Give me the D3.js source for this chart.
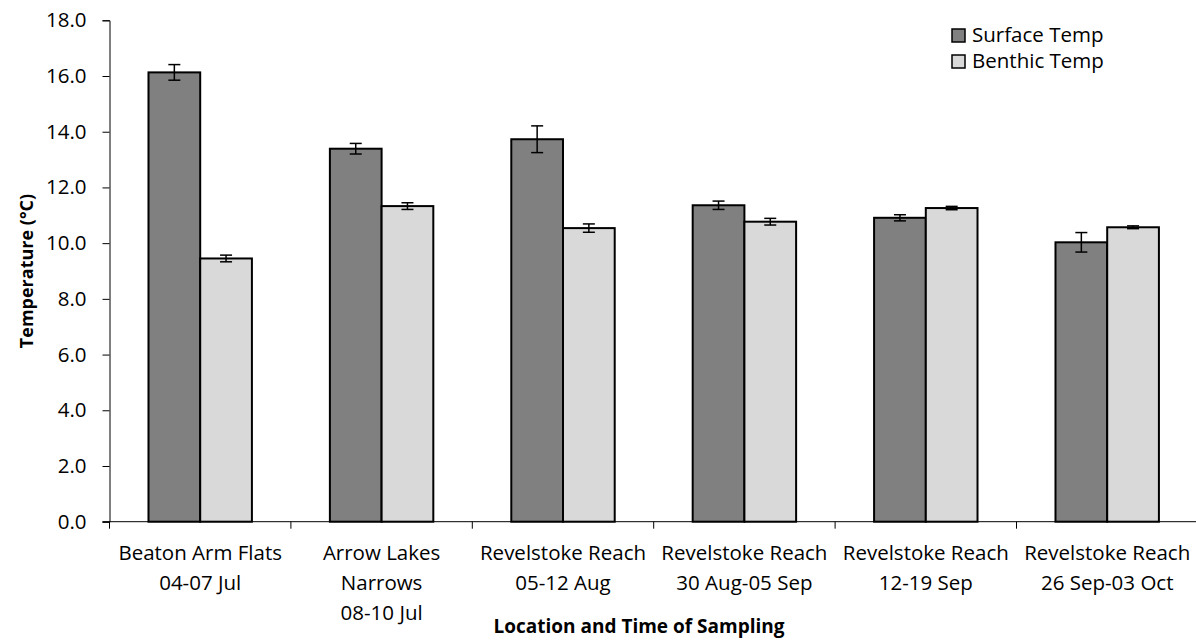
<!DOCTYPE html>
<html>
<head>
<meta charset="utf-8">
<script src="https://cdn.jsdelivr.net/npm/d3@7"></script>
<style>
  body { margin: 0; background: #fff; }
  svg text { font-family: "Open Sans", sans-serif; fill: #000; }
</style>
</head>
<body>
<div id="chart"></div>
<script>
// Data
const categories = [
  ["Beaton Arm Flats", "04-07 Jul"],
  ["Arrow Lakes", "Narrows", "08-10 Jul"],
  ["Revelstoke Reach", "05-12 Aug"],
  ["Revelstoke Reach", "30 Aug-05 Sep"],
  ["Revelstoke Reach", "12-19 Sep"],
  ["Revelstoke Reach", "26 Sep-03 Oct"]
];
const seriesNames = ["Surface Temp", "Benthic Temp"];
const surfaceTemp = [16.13, 13.39, 13.73, 11.36, 10.91, 10.03];
const surfaceErr = [0.28, 0.19, 0.48, 0.15, 0.11, 0.35];
const benthicTemp = [9.45, 11.33, 10.54, 10.77, 11.26, 10.57];
const benthicErr = [0.12, 0.12, 0.15, 0.12, 0.06, 0.05];
const yTicks = [0, 2, 4, 6, 8, 10, 12, 14, 16, 18];

const colors = { "Surface Temp": "#808080", "Benthic Temp": "#d9d9d9" };

const width = 1196, height = 641;
const margin = { left: 109.5, top: 20.3, bottom: 641 - 521.7 };
const plotRight = 109.5 + 6 * 181.4;
const fontSize = 20.5;

const svg = d3.select("#chart").append("svg")
  .attr("width", width)
  .attr("height", height);

const x0 = d3.scaleBand()
  .domain(d3.range(categories.length))
  .range([margin.left, plotRight])
  .padding(0);

const x1 = d3.scaleBand()
  .domain(seriesNames)
  .range([0, x0.bandwidth()])
  .paddingInner(0)
  .paddingOuter(0.754);

const y = d3.scaleLinear()
  .domain([0, 18])
  .range([height - margin.bottom, margin.top]);

const rows = categories.map((c, i) => [
  { name: "Surface Temp", i, v: surfaceTemp[i], e: surfaceErr[i] },
  { name: "Benthic Temp", i, v: benthicTemp[i], e: benthicErr[i] }
]);

// Bars
const groups = svg.append("g").selectAll("g")
  .data(rows)
  .join("g")
  .attr("transform", (d, i) => `translate(${x0(i)},0)`);

groups.selectAll("rect")
  .data(d => d)
  .join("rect")
  .attr("x", d => x1(d.name))
  .attr("y", d => y(d.v))
  .attr("width", x1.bandwidth())
  .attr("height", d => y(0) - y(d.v))
  .attr("fill", d => colors[d.name])
  .attr("stroke", "#000")
  .attr("stroke-width", 2);

// Error bars
const err = groups.selectAll("g.err")
  .data(d => d)
  .join("g")
  .attr("class", "err")
  .attr("stroke", "#000")
  .attr("stroke-width", 1.5);

err.append("line")
  .attr("x1", d => x1(d.name) + x1.bandwidth() / 2)
  .attr("x2", d => x1(d.name) + x1.bandwidth() / 2)
  .attr("y1", d => y(d.v + d.e))
  .attr("y2", d => y(d.v - d.e));
[1, -1].forEach(s => {
  err.append("line")
    .attr("x1", d => x1(d.name) + x1.bandwidth() / 2 - 6)
    .attr("x2", d => x1(d.name) + x1.bandwidth() / 2 + 6)
    .attr("y1", d => y(d.v + s * d.e))
    .attr("y2", d => y(d.v + s * d.e));
});

// Y axis
const yAxis = svg.append("g")
  .attr("transform", `translate(${margin.left},0)`)
  .call(d3.axisLeft(y).tickValues(yTicks).tickFormat(d3.format(".1f")).tickSize(7).tickPadding(16));
yAxis.selectAll("text").attr("font-size", fontSize).attr("font-family", "Open Sans");
yAxis.select(".domain").attr("stroke", "#000");
yAxis.selectAll(".tick line").attr("stroke", "#000");

// X axis
const xAxisG = svg.append("g")
  .attr("transform", `translate(0,${y(0)})`);
xAxisG.append("line")
  .attr("x1", margin.left - 7).attr("x2", plotRight)
  .attr("stroke", "#000");
xAxisG.selectAll("line.tick")
  .data(d3.range(categories.length + 1))
  .join("line")
  .attr("class", "tick")
  .attr("x1", i => margin.left + i * x0.step())
  .attr("x2", i => margin.left + i * x0.step())
  .attr("y1", 0).attr("y2", 7)
  .attr("stroke", "#000");

xAxisG.selectAll("text.cat")
  .data(categories)
  .join("text")
  .attr("class", "cat")
  .attr("text-anchor", "middle")
  .attr("font-size", fontSize)
  .attr("transform", (d, i) => `translate(${x0(i) + x0.bandwidth() / 2},38)`)
  .selectAll("tspan")
  .data(d => d)
  .join("tspan")
  .attr("x", 0)
  .attr("y", (d, j) => j * 30)
  .text(d => d);

// Axis titles
svg.append("text")
  .attr("transform", `translate(33,${(y(0) + y(18)) / 2}) rotate(-90)`)
  .attr("text-anchor", "middle")
  .attr("font-size", 18)
  .attr("font-weight", "bold")
  .text("Temperature (°C)");

svg.append("text")
  .attr("x", 639)
  .attr("y", 633)
  .attr("text-anchor", "middle")
  .attr("font-size", 19)
  .attr("font-weight", "bold")
  .text("Location and Time of Sampling");

// Legend
const legend = svg.append("g")
  .selectAll("g")
  .data(seriesNames)
  .join("g")
  .attr("transform", (d, i) => `translate(952,${29 + i * 26})`);
legend.append("rect")
  .attr("width", 13).attr("height", 13)
  .attr("fill", d => colors[d])
  .attr("stroke", "#000")
  .attr("stroke-width", 1.5);
legend.append("text")
  .attr("x", 20)
  .attr("y", 13)
  .attr("font-size", fontSize)
  .text(d => d);
</script>
</body>
</html>
